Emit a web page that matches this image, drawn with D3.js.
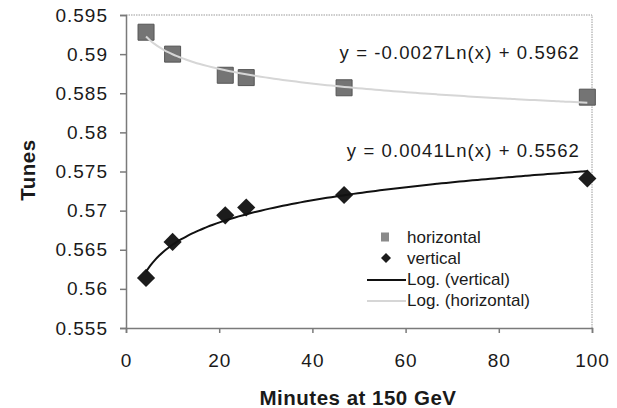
<html>
<head>
    <title>Tunes vs minutes</title>
    <style>
        body { margin: 0; background: #fff; }
        text { font-family: "Liberation Sans", Arial, sans-serif; fill: #1a1a1a; }
        .axis path, .axis line { stroke: #7a7a7a; stroke-width: 1.5px; }
        .axis text { font-size: 19px; letter-spacing: 1px; fill: #1a1a1a; font-family: "Liberation Sans", Arial, sans-serif; }
        .frame { fill: none; stroke: #999; stroke-width: 1px; stroke-dasharray: 1.5 1; }
        .fit_h { fill: none; stroke: #d6d6d6; stroke-width: 2px; }
        .fit_v { fill: none; stroke: #111; stroke-width: 2px; }
        .eq { font-size: 18.5px; letter-spacing: 1.1px; }
        .legend text { font-size: 17px; }
        .title { font-size: 20.5px; font-weight: bold; letter-spacing: 0.5px; }
    </style>
</head>
<body>
    <svg id="container" width="617" height="408">
        <g id="body" transform="translate(126,15)"></g>
    </svg>
<script src="https://cdn.jsdelivr.net/npm/d3@7"></script>
<script>
    // data
    let minutes = [4.3, 10.0, 21.3, 25.8, 46.8, 99]
    let horizontal = [0.5928, 0.5900, 0.5873, 0.5870, 0.5857, 0.5845]
    let vertical = [0.5614, 0.5660, 0.5694, 0.5704, 0.5720, 0.5741]

    // log fit coefficients, y = a*ln(x) + b
    let fitH = [-0.0027, 0.5962]
    let fitV = [0.0041, 0.5562]

    let xTicks = [0, 20, 40, 60, 80, 100]
    let yTicks = [0.555, 0.56, 0.565, 0.57, 0.575, 0.58, 0.585, 0.59, 0.595]
    let legendLabels = ["horizontal", "vertical", "Log. (vertical)", "Log. (horizontal)"]

    let bodyWidth = 466
    let bodyHeight = 313
    let body = d3.select("#body")
    let svg = d3.select("#container")

    let xScale = d3.scaleLinear().domain([0, 100]).range([0, bodyWidth])
    let yScale = d3.scaleLinear().domain([0.555, 0.595]).range([bodyHeight, 0])

    // dotted frame on top and right
    body.append("path")
        .attr("class", "frame")
        .attr("d", `M0,0H${bodyWidth}V${bodyHeight}`)

    // y axis
    body.append("g")
        .attr("class", "axis")
        .call(d3.axisLeft(yScale)
            .tickValues(yTicks)
            .tickSize(6)
            .tickPadding(12)
            .tickFormat(d => d3.format(".3~f")(d)))

    // x axis
    body.append("g")
        .attr("class", "axis")
        .attr("transform", `translate(0, ${bodyHeight})`)
        .call(d3.axisBottom(xScale)
            .tickValues(xTicks)
            .tickSize(5)
            .tickPadding(21))

    // fitted log curves
    let xs = d3.range(0, 101).map(i => minutes[0] + (d3.max(minutes) - minutes[0]) * i / 100)
    let line = d3.line()
        .curve(d3.curveMonotoneX)
        .x(d => xScale(d[0]))
        .y(d => yScale(d[1]))

    // vertical: diamonds then black fit
    let diamond = d3.symbol().type(d3.symbolSquare).size(165)
    body.selectAll(".vpt")
        .data(minutes)
        .join("path")
        .attr("class", "vpt")
        .attr("d", diamond)
        .attr("fill", "#1c1c1c")
        .attr("transform", (d, i) => `translate(${xScale(d)},${yScale(vertical[i])}) rotate(45)`)

    body.append("path")
        .datum(xs.map(x => [x, fitV[0] * Math.log(x) + fitV[1]]))
        .attr("class", "fit_v")
        .attr("d", line)

    // horizontal: squares then light fit on top
    let square = d3.symbol().type(d3.symbolSquare).size(256)
    body.selectAll(".hpt")
        .data(minutes)
        .join("path")
        .attr("class", "hpt")
        .attr("d", square)
        .attr("fill", "#747474")
        .attr("stroke", "#555")
        .attr("stroke-width", 1)
        .attr("transform", (d, i) => `translate(${xScale(d)},${yScale(horizontal[i])})`)

    body.append("path")
        .datum(xs.map(x => [x, fitH[0] * Math.log(x) + fitH[1]]))
        .attr("class", "fit_h")
        .attr("d", line)

    // equations
    let fmtEq = c => `y = ${c[0].toFixed(4)}Ln(x) + ${c[1].toFixed(4)}`
    body.append("text")
        .attr("class", "eq")
        .attr("x", 454).attr("y", 43.7)
        .attr("text-anchor", "end")
        .text(fmtEq(fitH))
    body.append("text")
        .attr("class", "eq")
        .attr("x", 454).attr("y", 142)
        .attr("text-anchor", "end")
        .text(fmtEq(fitV))

    // axis titles
    svg.append("text")
        .attr("class", "title")
        .attr("x", 358).attr("y", 405)
        .attr("text-anchor", "middle")
        .text("Minutes at 150 GeV")
    svg.append("text")
        .attr("class", "title")
        .attr("transform", "translate(35,170) rotate(-90)")
        .attr("text-anchor", "middle")
        .text("Tunes")

    // legend
    let legend = svg.append("g").attr("class", "legend").attr("transform", "translate(407,237)")
    let rowGap = 21
    legend.selectAll("text")
        .data(legendLabels)
        .join("text")
        .attr("x", 0)
        .attr("y", (d, i) => i * rowGap + 6)
        .text(d => d)

    legend.append("rect")
        .attr("x", -26).attr("y", -4.5).attr("width", 8).attr("height", 9)
        .attr("fill", "#8a8a8a")
    legend.append("path")
        .attr("d", d3.symbol().type(d3.symbolSquare).size(50))
        .attr("fill", "#1c1c1c")
        .attr("transform", `translate(-21,${rowGap}) rotate(45)`)
    legend.append("line")
        .attr("x1", -40).attr("x2", -1).attr("y1", rowGap * 2 + 1).attr("y2", rowGap * 2 + 1)
        .attr("stroke", "#111").attr("stroke-width", 2)
    legend.append("line")
        .attr("x1", -40).attr("x2", -1).attr("y1", rowGap * 3 + 1).attr("y2", rowGap * 3 + 1)
        .attr("stroke", "#d6d6d6").attr("stroke-width", 2)
</script>
</body>
</html>
